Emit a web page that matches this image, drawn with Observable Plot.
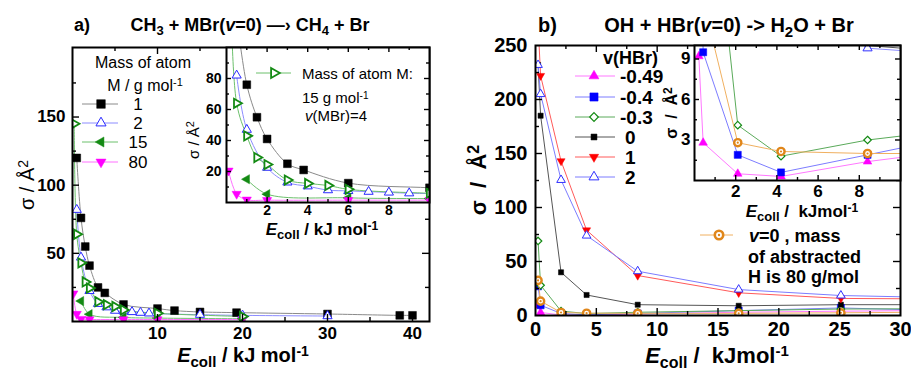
<!DOCTYPE html>
<html><head><meta charset="utf-8">
<script src="https://cdn.jsdelivr.net/npm/d3@7"></script>
<script src="https://cdn.jsdelivr.net/npm/@observablehq/plot@0.6"></script>
<style>
body{margin:0;background:#fff;}
#root{position:relative;width:911px;height:370px;overflow:hidden;background:#fff;}
#root svg{position:absolute;left:0;top:0;}
</style></head><body><div id="root"></div>
<script>
// ---------- Panel a: CH3 + MBr(v=0) ----------
const aE1 = [0.5, 1, 1.5, 2, 3, 3.8, 6, 10, 12, 15, 19.3, 30, 38.5, 40];
const aS1 = [120, 76, 55, 41, 25, 21, 12.5, 9.5, 8, 7, 6.5, 5.5, 4.5, 4.5];
const aE2 = [0.5, 1, 2, 3, 4, 5, 6, 7, 8, 9, 15, 20, 30];
const aS2 = [82, 47, 22.5, 13, 10.5, 8, 7.5, 7, 6.5, 6, 5, 4.5, 4];
const aE15 = [1, 2, 6, 10, 20];
const aS15 = [15, 5.4, 3, 2.5, 2];
const aE80 = [0.1, 0.5, 1, 2, 6, 10, 20];
const aS80 = [20.5, 5.5, 1.8, 1.5, 1.5, 1.5, 1.5];
const aE15v4 = [0.2, 0.5, 1, 1.5, 2, 3, 4, 5, 6, 10, 20];
const aS15v4 = [145, 64, 43, 29, 24.5, 14.5, 12.3, 11, 8.5, 6, 3.7];
const aLegendLabels = ["1", "2", "15", "80"];

// ---------- Panel b: OH + HBr(v=0) ----------
const bE = [0.21, 0.42, 2.1, 4.2, 8.4, 16.7, 25.1, 33.5];
const bVm049 = [9.2, 2.8, 0.5, 0.3, 1.4, 3, 4, 4.7];
const bVm04 = [27, 9.5, 1.9, 0.6, 1.9, 4.5, 7, 4.5];
const bVm03 = [69, 28, 4.1, 1.8, 3.0, 4.5, 6, 6.3];
const bV0 = [232, 185, 40, 19, 10, 9, 10, 10];
const bV1 = [270, 222, 143, 79, 37, 21, 15.8, 15.3];
const bV2 = [232, 205, 125.5, 74, 41, 24, 18.5, 16.5];
const bM80 = [32.5, 13.3, 2.8, 2.15, 2.0, 2.0, 2.5, 3.2];
const bInsV2E = [8.4, 16.7];
const bInsV2S = [9.8, 8.9];
const bLegendLabels = ["-0.49", "-0.4", "-0.3", "0", "1", "2"];

const FONT = '"Liberation Sans", Arial, sans-serif';
const rows = (E, S) => E.map((e, i) => ({x: e, y: S[i]}));

// custom symbols
const S3 = Math.sqrt(3);
const triDown = {draw(c, s){const h=Math.sqrt(s/(S3*3)); c.moveTo(0,2*h); c.lineTo(S3*h,-h); c.lineTo(-S3*h,-h); c.closePath();}};
const triRight = {draw(c, s){const h=Math.sqrt(s/(S3*3)); c.moveTo(2*h,0); c.lineTo(-h,S3*h); c.lineTo(-h,-S3*h); c.closePath();}};
const triLeft = {draw(c, s){const h=Math.sqrt(s/(S3*3)); c.moveTo(-2*h,0); c.lineTo(h,S3*h); c.lineTo(h,-S3*h); c.closePath();}};
const diamond = {draw(c, s){const a=Math.sqrt(s/2); c.moveTo(0,-a); c.lineTo(a,0); c.lineTo(0,a); c.lineTo(-a,0); c.closePath();}};

// series style definitions
const aSeries = [
  {d: rows(aE1, aS1), line: "#8a8a8a", sym: d3.symbolSquare, r: 4.4, fill: "black", stroke: "black", sw: 0.5},
  {d: rows(aE2, aS2), line: "#8c8cff", sym: d3.symbolTriangle, r: 3.4, fill: "white", stroke: "#2a2aff", sw: 1},
  {d: rows(aE15, aS15), line: "#6cc06c", sym: triLeft, r: 3.4, fill: "#138a13", stroke: "#138a13", sw: 0.5},
  {d: rows(aE80, aS80), line: "#ff70ff", sym: triDown, r: 3.4, fill: "#ff00ff", stroke: "#ff00ff", sw: 0.5},
  {d: rows(aE15v4, aS15v4), line: "#6cc06c", sym: triRight, r: 3.4, fill: "white", stroke: "#138a13", sw: 1.8}
];
const bSeries = [
  {d: rows(bE, bVm049), line: "#ff78ff", sym: d3.symbolTriangle, r: 3.2, fill: "#ff00ff", stroke: "#ff00ff", sw: 0.5},
  {d: rows(bE, bVm04), line: "#7c7cff", sym: d3.symbolSquare, r: 4.0, fill: "#0000ff", stroke: "#0000ff", sw: 0.5},
  {d: rows(bE, bVm03), line: "#5aaa5a", sym: diamond, r: 3.0, fill: "white", stroke: "#138a13", sw: 1.2},
  {d: rows(bE, bV0), line: "#555555", sym: d3.symbolSquare, r: 2.9, fill: "black", stroke: "black", sw: 0.5},
  {d: rows(bE, bV1), line: "#ff5a5a", sym: triDown, r: 3.0, fill: "#ff0000", stroke: "#ff0000", sw: 0.5},
  {d: rows(bE, bV2), line: "#7c7cff", sym: d3.symbolTriangle, r: 3.2, fill: "white", stroke: "#3030ff", sw: 1}
];
const bOrange = {d: rows(bE, bM80), line: "#f0b060", color: "#e0861a"};
const bInsExtra = {d: rows(bInsV2E, bInsV2S), line: "#8c8cff", sym: d3.symbolTriangle, r: 3.4, fill: "white", stroke: "#3030ff", sw: 1};

function seriesMarks(list, curve) {
  const m = [];
  for (const s of list) m.push(Plot.line(s.d, {x: "x", y: "y", stroke: s.line, strokeWidth: 1, curve, clip: true}));
  for (const s of list) m.push(Plot.dot(s.d, {x: "x", y: "y", symbol: s.sym, r: s.r, fill: s.fill, stroke: s.stroke, strokeWidth: s.sw, clip: true}));
  return m;
}
function orangeMarks(o) {
  return [
    Plot.line(o.d, {x: "x", y: "y", stroke: o.line, strokeWidth: 1, clip: true}),
    Plot.dot(o.d, {x: "x", y: "y", r: 3.6, fill: "white", stroke: o.color, strokeWidth: 2.4, clip: true}),
    Plot.dot(o.d, {x: "x", y: "y", r: 1.1, fill: o.color, clip: true})
  ];
}
function tickMarks(fw, fh, t) {
  const m = [];
  const st = {stroke: "black", strokeWidth: 1.4};
  for (const [vals, len] of [[t.yMaj, t.L], [t.yMin, t.l]]) {
    m.push(Plot.ruleY(vals, {...st, insetRight: fw - len}));
    m.push(Plot.ruleY(vals, {...st, insetLeft: fw - len}));
  }
  for (const [vals, len] of [[t.xMaj, t.L], [t.xMin, t.l]]) {
    m.push(Plot.ruleX(vals, {...st, insetTop: fh - len}));
    m.push(Plot.ruleX(vals, {...st, insetBottom: fh - len}));
  }
  return m;
}
function panel(o) {
  const fw = o.R - o.L, fh = o.B - o.T;
  return Plot.plot({
    width: 911, height: 370,
    marginLeft: o.L, marginRight: 911 - o.R, marginTop: o.T, marginBottom: 370 - o.B,
    x: {domain: o.xd, label: null},
    y: {domain: o.yd, label: null},
    style: {background: "transparent", fontFamily: FONT, fontSize: o.fs + "px", fontWeight: "bold", overflow: "visible"},
    marks: [
      Plot.frame({fill: o.bg || "none", stroke: "none"}),
      ...o.marks,
      ...tickMarks(fw, fh, o.t),
      Plot.axisX({ticks: o.t.xLab, tickSize: 0, tickPadding: o.xpad, fontSize: o.fs, fontWeight: "bold", label: null, tickFormat: d => String(d)}),
      Plot.axisY({ticks: o.t.yLab, tickSize: 0, tickPadding: o.ypad, fontSize: o.fs, fontWeight: "bold", label: null, tickFormat: d => String(d)}),
      Plot.frame({stroke: "black", strokeWidth: 2})
    ]
  });
}

const root = document.getElementById("root");

// Panel a main
root.appendChild(panel({
  L: 72, R: 429, T: 47, B: 321, xd: [0, 42], yd: [0, 201], fs: 17, xpad: 5, ypad: 7,
  t: {xLab: [10, 20, 30, 40], xMaj: [10, 20, 30, 40], xMin: [5, 15, 25, 35], yLab: [50, 100, 150], yMaj: [50, 100, 150], yMin: [25, 75, 125, 175], L: 7, l: 4},
  marks: seriesMarks(aSeries, "catmull-rom")
}));
// Panel a inset
root.appendChild(panel({
  L: 226, R: 429, T: 47, B: 202, xd: [0, 10], yd: [0, 100], fs: 14, xpad: 3, ypad: 5, bg: "white",
  t: {xLab: [2, 4, 6, 8], xMaj: [2, 4, 6, 8], xMin: [1, 3, 5, 7, 9], yLab: [20, 40, 60, 80], yMaj: [20, 40, 60, 80], yMin: [10, 30, 50, 70, 90], L: 5, l: 3},
  marks: seriesMarks(aSeries, "catmull-rom")
}));
// Panel b main
root.appendChild(panel({
  L: 535, R: 900, T: 45, B: 315, xd: [0, 30], yd: [0, 250], fs: 20, xpad: 6, ypad: 8,
  t: {xLab: [0, 5, 10, 15, 20, 25, 30], xMaj: [5, 10, 15, 20, 25], xMin: [2.5, 7.5, 12.5, 17.5, 22.5, 27.5], yLab: [0, 50, 100, 150, 200, 250], yMaj: [50, 100, 150, 200], yMin: [25, 75, 125, 175, 225], L: 7, l: 4},
  marks: [...seriesMarks(bSeries, "linear"), ...orangeMarks(bOrange)]
}));
// Panel b inset
root.appendChild(panel({
  L: 694, R: 900, T: 45, B: 180, xd: [0, 10], yd: [0, 10], fs: 17, xpad: 4, ypad: 4, bg: "white",
  t: {xLab: [2, 4, 6, 8], xMaj: [2, 4, 6, 8], xMin: [1, 3, 5, 7, 9], yLab: [3, 6, 9], yMaj: [3, 6, 9], yMin: [1.5, 4.5, 7.5], L: 5, l: 3},
  marks: [...seriesMarks([...bSeries, bInsExtra], "linear"), ...orangeMarks(bOrange)]
}));

// ---------- overlay: titles, axis titles, legends ----------
const symPath = (sym, r, x, y, fill, stroke, sw) =>
  `<path transform="translate(${x},${y})" d="${d3.symbol(sym, Math.PI * r * r)()}" fill="${fill}" stroke="${stroke}" stroke-width="${sw}"/>`;
const SUB = (t, fs) => `<tspan baseline-shift="-30%" font-size="${fs}">${t}</tspan>`;
const SUP = (t, fs) => `<tspan baseline-shift="45%" font-size="${fs}">${t}</tspan>`;

let o = `<svg xmlns="http://www.w3.org/2000/svg" width="911" height="370" font-family='${FONT}' style="overflow:visible">`;
// panel a titles
o += `<text x="74" y="31" font-size="18" font-weight="bold">a)</text>`;
o += `<text x="250" y="31" font-size="18" font-weight="bold" text-anchor="middle">CH${SUB("3", 13)} + MBr(<tspan font-style="italic">v</tspan>=0) —› CH${SUB("4", 13)} + Br</text>`;
o += `<text transform="translate(34,185) rotate(-90)" font-size="20" text-anchor="middle">σ / Å${SUP("2", 14)}</text>`;
o += `<text x="243" y="362" font-size="20" font-weight="bold" text-anchor="middle"><tspan font-style="italic">E</tspan>${SUB("coll", 15)} / kJ mol${SUP("-1", 14)}</text>`;
// panel a legend
o += `<text x="143" y="68" font-size="16" text-anchor="middle">Mass of atom</text>`;
o += `<text x="145" y="91" font-size="16" text-anchor="middle">M / g mol${SUP("-1", 11)}</text>`;
const aLegY = [104, 123, 142, 162];
aSeries.slice(0, 4).forEach((s, i) => {
  o += `<line x1="82" x2="118" y1="${aLegY[i]}" y2="${aLegY[i]}" stroke="${s.line}" stroke-width="1"/>`;
  o += symPath(s.sym, s.r * 1.1, 101, aLegY[i], s.fill, s.stroke, s.sw);
  o += `<text x="138" y="${aLegY[i] + 6}" font-size="17" text-anchor="middle">${aLegendLabels[i]}</text>`;
});
// panel a inset texts
const v4 = aSeries[4];
o += `<line x1="256" x2="291" y1="73" y2="73" stroke="${v4.line}" stroke-width="1"/>`;
o += symPath(v4.sym, v4.r * 1.1, 274, 73, v4.fill, v4.stroke, v4.sw);
o += `<text x="302" y="79" font-size="15">Mass of atom M:</text>`;
o += `<text x="302" y="103" font-size="15">15 g mol${SUP("-1", 10)}</text>`;
o += `<text x="305" y="121" font-size="15"><tspan font-style="italic">v</tspan>(MBr)=4</text>`;
o += `<text transform="translate(199,140) rotate(-90)" font-size="15" text-anchor="middle">σ / Å${SUP("2", 11)}</text>`;
o += `<text x="322" y="235" font-size="17" font-weight="bold" text-anchor="middle"><tspan font-style="italic">E</tspan>${SUB("coll", 13)} / kJ mol${SUP("-1", 12)}</text>`;

// panel b titles
o += `<text x="538" y="32" font-size="20" font-weight="bold">b)</text>`;
o += `<text x="729" y="32" font-size="20" font-weight="bold" text-anchor="middle">OH + HBr(<tspan font-style="italic">v</tspan>=0) -&gt; H${SUB("2", 15)}O + Br</text>`;
o += `<text transform="translate(486,180) rotate(-90)" font-size="22" font-weight="bold" text-anchor="middle" xml:space="preserve">σ  /  Å${SUP("2", 16)}</text>`;
o += `<text x="717" y="363" font-size="22" font-weight="bold" text-anchor="middle" xml:space="preserve"><tspan font-style="italic">E</tspan>${SUB("coll", 16)} /  kJmol${SUP("-1", 15)}</text>`;
// panel b legend
o += `<text x="603" y="64" font-size="18" font-weight="bold">v(HBr)</text>`;
const bLegY = [76, 97, 117, 137, 157, 177];
bSeries.forEach((s, i) => {
  o += `<line x1="575" x2="615" y1="${bLegY[i]}" y2="${bLegY[i]}" stroke="${s.line}" stroke-width="1"/>`;
  o += symPath(s.sym, s.r * 1.15, 594, bLegY[i], s.fill, s.stroke, s.sw);
  o += `<text x="${i < 3 ? 620 : 625}" y="${bLegY[i] + 7}" font-size="19" font-weight="bold">${bLegendLabels[i]}</text>`;
});
o += `<line x1="700" x2="733" y1="235" y2="235" stroke="${bOrange.line}" stroke-width="1"/>`;
o += `<circle cx="719" cy="235" r="4.2" fill="white" stroke="${bOrange.color}" stroke-width="2.6"/><circle cx="719" cy="235" r="1.2" fill="${bOrange.color}"/>`;
o += `<text x="749" y="242" font-size="18" font-weight="bold"><tspan font-style="italic">v</tspan>=0 , mass</text>`;
o += `<text x="748" y="263" font-size="18" font-weight="bold">of abstracted</text>`;
o += `<text x="748" y="283" font-size="18" font-weight="bold">H is 80 g/mol</text>`;
// panel b inset axis titles
o += `<text transform="translate(677,113) rotate(-90)" font-size="16" font-weight="bold" text-anchor="middle" xml:space="preserve">σ  /  Å${SUP("2", 12)}</text>`;
o += `<text x="802" y="217" font-size="17" font-weight="bold" text-anchor="middle" xml:space="preserve"><tspan font-style="italic">E</tspan>${SUB("coll", 13)} /  kJmol${SUP("-1", 12)}</text>`;
o += `</svg>`;
const ov = document.createElement("div");
ov.innerHTML = o;
root.appendChild(ov.firstChild);
</script></body></html>
